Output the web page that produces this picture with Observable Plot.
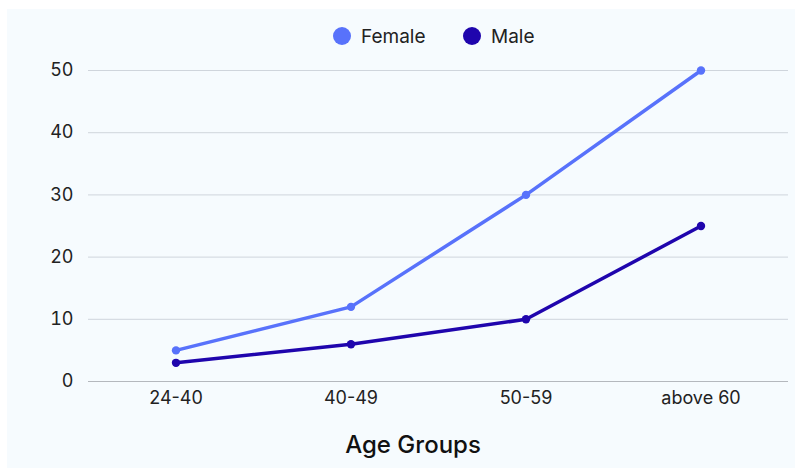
<!DOCTYPE html>
<html>
<head>
<meta charset="utf-8">
<script src="https://cdn.jsdelivr.net/npm/d3@7"></script>
<script src="https://cdn.jsdelivr.net/npm/@observablehq/plot@0.6"></script>
<style>
  html, body { margin: 0; padding: 0; background: #ffffff; }
  body { width: 795px; height: 468px; position: relative; overflow: hidden; font-family: Inter, "Open Sans", sans-serif; }
  #panel { position: absolute; left: 7px; top: 9px; width: 788px; height: 459px; background: #f6fbfe; }
  #legend { position: absolute; top: 16px; left: 0; width: 100%; height: 22px; }
  .item { position: absolute; display: flex; align-items: center; font-size: 19px; color: #222; white-space: nowrap; height: 22px; }
  .sw { width: 18px; height: 18px; border-radius: 50%; margin-right: 10px; }
  #chart { position: absolute; left: 0; top: 46px; }
  #title { position: absolute; top: 421px; left: 0; width: 812px; text-align: center; font-size: 24px; font-weight: 500; color: #111; }
</style>
</head>
<body>
<div id="panel">
  <div id="legend"></div>
  <div id="chart"></div>
  <div id="title">Age Groups</div>
</div>
<script>
const categories = ["24-40", "40-49", "50-59", "above 60"];
const female = [5, 12, 30, 50];
const male = [3, 6, 10, 25];
const seriesNames = ["Female", "Male"];
const seriesColors = ["#5872fb", "#1f05ad"];
const yTicks = [0, 10, 20, 30, 40, 50];
const xLabel = "Age Groups";

const data = [];
categories.forEach((c, i) => {
  data.push({cat: c, value: female[i], series: seriesNames[0]});
  data.push({cat: c, value: male[i], series: seriesNames[1]});
});

// legend
const legend = document.getElementById("legend");
const legendX = [326, 456];
seriesNames.forEach((name, i) => {
  const it = document.createElement("div");
  it.className = "item";
  it.style.left = legendX[i] + "px";
  const sw = document.createElement("div");
  sw.className = "sw";
  sw.style.background = seriesColors[i];
  const t = document.createElement("span");
  t.textContent = name;
  it.appendChild(sw);
  it.appendChild(t);
  legend.appendChild(it);
});
document.getElementById("title").textContent = xLabel;

const chart = Plot.plot({
  width: 788,
  height: 370,
  marginLeft: 81,
  marginRight: 7,
  marginTop: 15,
  marginBottom: 44,
  style: { background: "transparent", fontFamily: "Inter, sans-serif", fontSize: "18px", color: "#222" },
  x: { type: "band", domain: categories, padding: 0, label: null },
  y: { domain: [0, 50], ticks: yTicks, label: null },
  color: { domain: seriesNames, range: seriesColors },
  marks: [
    Plot.gridY(yTicks.filter(d => d > 0), { stroke: "#cfd5dc", strokeOpacity: 1, strokeWidth: 1 }),
    Plot.ruleY([0], { stroke: "#b4b8bd", strokeWidth: 1.2 }),
    Plot.axisY({ ticks: yTicks, tickSize: 0, tickPadding: 15, fontSize: 18, label: null }),
    Plot.axisX({ tickSize: 0, tickPadding: 10, fontSize: 18, label: null }),
    Plot.line(data, { x: "cat", y: "value", z: "series", stroke: "series", strokeWidth: 3.5 }),
    Plot.dot(data, { x: "cat", y: "value", fill: "series", r: 4.2 })
  ]
});
document.getElementById("chart").appendChild(chart);
</script>
</body>
</html>
